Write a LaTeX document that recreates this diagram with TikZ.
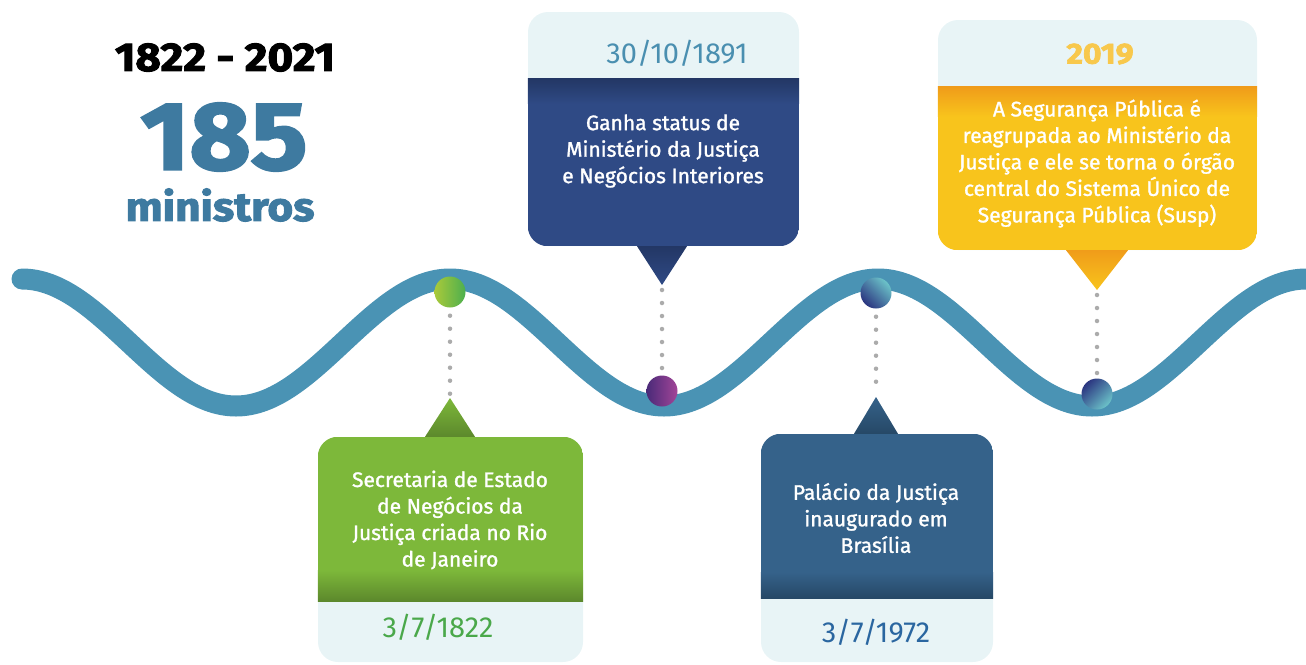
\documentclass[tikz,border=0pt]{standalone}
\usepackage{fontspec}
\setmainfont{Fira Sans}
\newfontfamily\cardfont{Fira Sans}[FakeBold=1.3]
\newfontfamily\heavyfont{Fira Sans}[BoldFeatures={FakeBold=2.5},FakeStretch=1.1]

\definecolor{waveblue}{HTML}{4A93B4}
\definecolor{headlight}{HTML}{E8F4F6}
\definecolor{navy}{HTML}{2F4A85}
\definecolor{navydark}{HTML}{233765}
\definecolor{sunyellow}{HTML}{F8C41C}
\definecolor{sunorange}{HTML}{F09C1A}
\definecolor{leafgreen}{HTML}{7DB83A}
\definecolor{leafdark}{HTML}{5C882C}
\definecolor{steel}{HTML}{35628A}
\definecolor{steeldark}{HTML}{264866}
\definecolor{dotgray}{HTML}{ABABAB}
\definecolor{titleblue}{HTML}{3E7AA0}
\definecolor{datecyan}{HTML}{4A8FB0}
\definecolor{dategreen}{HTML}{4AA84A}
\definecolor{dateblue}{HTML}{2A66A0}
\definecolor{dateyellow}{HTML}{F8C84C}
\definecolor{balllime}{HTML}{A9C93A}
\definecolor{ballgreen}{HTML}{4CAF4E}
\definecolor{ballplum}{HTML}{4A2A78}
\definecolor{ballpink}{HTML}{A24598}
\definecolor{ballteal}{HTML}{6CC3C9}
\definecolor{ballnavy}{HTML}{2B3580}

\tikzset{
  wave/.style={line width=21pt,color=waveblue,line cap=round},
  ball/.style={circle,minimum size=31pt,inner sep=0pt},
  dotline/.style={draw=dotgray,line width=4.5pt,line cap=round,dash pattern=on 0pt off 13pt},
  card/.style={rectangle,rounded corners=20pt,fill=headlight,inner sep=0pt},
  cardtext/.style={text=white,align=center,inner sep=0pt,font=\cardfont\fontsize{21}{26.5}\selectfont},
  datetext/.style={inner sep=0pt,font=\fontsize{29}{30}\selectfont},
  headline/.style={inner sep=0pt,font=\heavyfont\bfseries\fontsize{#1}{#1}\selectfont},
}

\begin{document}
\begin{tikzpicture}[x=1pt,y=1pt]
\clip (0,0) rectangle (1306,-664);

% the wave
\draw[wave] (22,-279) cos (129,-342.5) sin (236,-406) cos (343,-342.5) sin (450,-279)
  cos (557,-342.5) sin (664,-406) cos (771,-342.5) sin (878,-279)
  cos (985,-342.5) sin (1092,-406) cos (1199,-342.5) sin (1306,-279) cos (1413,-342.5);

% title
\node[headline=40] (span) at (225,-57.5) {1822 - 2021};
\node[headline=96,text=titleblue] (count) at (224,-137) {185};
\node[headline=40,text=titleblue] (unit) at (220,-205) {ministros};

% pointer tips
\coordinate (p1822) at (450,-398);
\coordinate (p1891) at (662,-285);
\coordinate (p1972) at (876,-397);
\coordinate (p2019) at (1097,-290);

% balls on the wave
\node[ball,left color=balllime,right color=ballgreen] (b1822) at (450,-292) {};
\node[ball,left color=ballplum,right color=ballpink] (b1891) at (662,-391) {};
\node[ball,top color=ballteal,bottom color=ballnavy,shading angle=-45] (b1972) at (876,-293) {};
\node[ball,top color=ballnavy,bottom color=ballteal,shading angle=45] (b2019) at (1097,-394) {};

\draw[dotline] ([yshift=-8pt]b1822.south) -- ([yshift=4pt]p1822);
\draw[dotline] ([yshift=-5pt]p1891) -- ([yshift=4pt]b1891.north);
\draw[dotline] ([yshift=-8pt]b1972.south) -- ([yshift=4pt]p1972);
\draw[dotline] ([yshift=-5pt]p2019) -- ([yshift=4pt]b2019.north);

% 1891
\node[card,minimum width=271pt,minimum height=234pt] (c1891) at (663.5,-129) {};
\begin{scope}
  \clip[rounded corners=20pt] (c1891.south west) rectangle (c1891.north east);
  \fill[navy] (c1891.south west) rectangle ([yshift=-67pt]c1891.north east);
  \shade[top color=navydark,bottom color=navy] ([yshift=-67pt]c1891.north west) rectangle ([yshift=-92pt]c1891.north east);
\end{scope}
\shade[top color=navydark,bottom color=navy] ([xshift=-25pt]p1891 |- c1891.south) -- (p1891) -- ([xshift=25pt]p1891 |- c1891.south) -- cycle;
\node[datetext,text=datecyan] (d1891) at (677,-53) {30/10/1891};
\node[cardtext] (x1891) at (663,-151) {Ganha status de\\Ministério da Justiça\\e Negócios Interiores};

% 2019
\node[card,minimum width=319pt,minimum height=230pt] (c2019) at (1097.5,-135) {};
\begin{scope}
  \clip[rounded corners=20pt] (c2019.south west) rectangle (c2019.north east);
  \fill[sunyellow] (c2019.south west) rectangle ([yshift=-67pt]c2019.north east);
  \shade[top color=sunorange,bottom color=sunyellow] ([yshift=-67pt]c2019.north west) rectangle ([yshift=-97pt]c2019.north east);
\end{scope}
\shade[top color=sunorange,bottom color=sunyellow] ([xshift=-31pt]p2019 |- c2019.south) -- (p2019) -- ([xshift=31pt]p2019 |- c2019.south) -- cycle;
\node[headline=29,text=dateyellow] (d2019) at (1100,-54) {2019};
\node[cardtext] (x2019) at (1097,-163.5) {A Segurança Pública é\\reagrupada ao Ministério da\\Justiça e ele se torna o órgão\\central do Sistema Único de\\Segurança Pública (Susp)};

% 1822
\node[card,minimum width=265pt,minimum height=225pt] (c1822) at (450.5,-549.5) {};
\begin{scope}
  \clip[rounded corners=20pt] (c1822.south west) rectangle (c1822.north east);
  \fill[leafgreen] (c1822.north west) rectangle ([yshift=61pt]c1822.south east);
  \shade[top color=leafgreen,bottom color=leafdark] ([yshift=92pt]c1822.south west) rectangle ([yshift=61pt]c1822.south east);
\end{scope}
\shade[top color=leafgreen,bottom color=leafdark] ([xshift=-25pt]p1822 |- c1822.north) -- (p1822) -- ([xshift=25pt]p1822 |- c1822.north) -- cycle;
\node[cardtext] (x1822) at (450,-520) {Secretaria de Estado\\de Negócios da\\Justiça criada no Rio\\de Janeiro};
\node[datetext,text=dategreen] (d1822) at (438,-627) {3/7/1822};

% 1972
\node[card,minimum width=232pt,minimum height=228pt] (c1972) at (877,-548) {};
\begin{scope}
  \clip[rounded corners=20pt] (c1972.south west) rectangle (c1972.north east);
  \fill[steel] (c1972.north west) rectangle ([yshift=64pt]c1972.south east);
  \shade[top color=steel,bottom color=steeldark] ([yshift=90pt]c1972.south west) rectangle ([yshift=64pt]c1972.south east);
\end{scope}
\shade[top color=steel,bottom color=steeldark] ([xshift=-22pt]p1972 |- c1972.north) -- (p1972) -- ([xshift=22pt]p1972 |- c1972.north) -- cycle;
\node[cardtext] (x1972) at (876,-518) {Palácio da Justiça\\inaugurado em\\Brasília};
\node[datetext,text=dateblue] (d1972) at (876,-632) {3/7/1972};
\end{tikzpicture}
\end{document}
